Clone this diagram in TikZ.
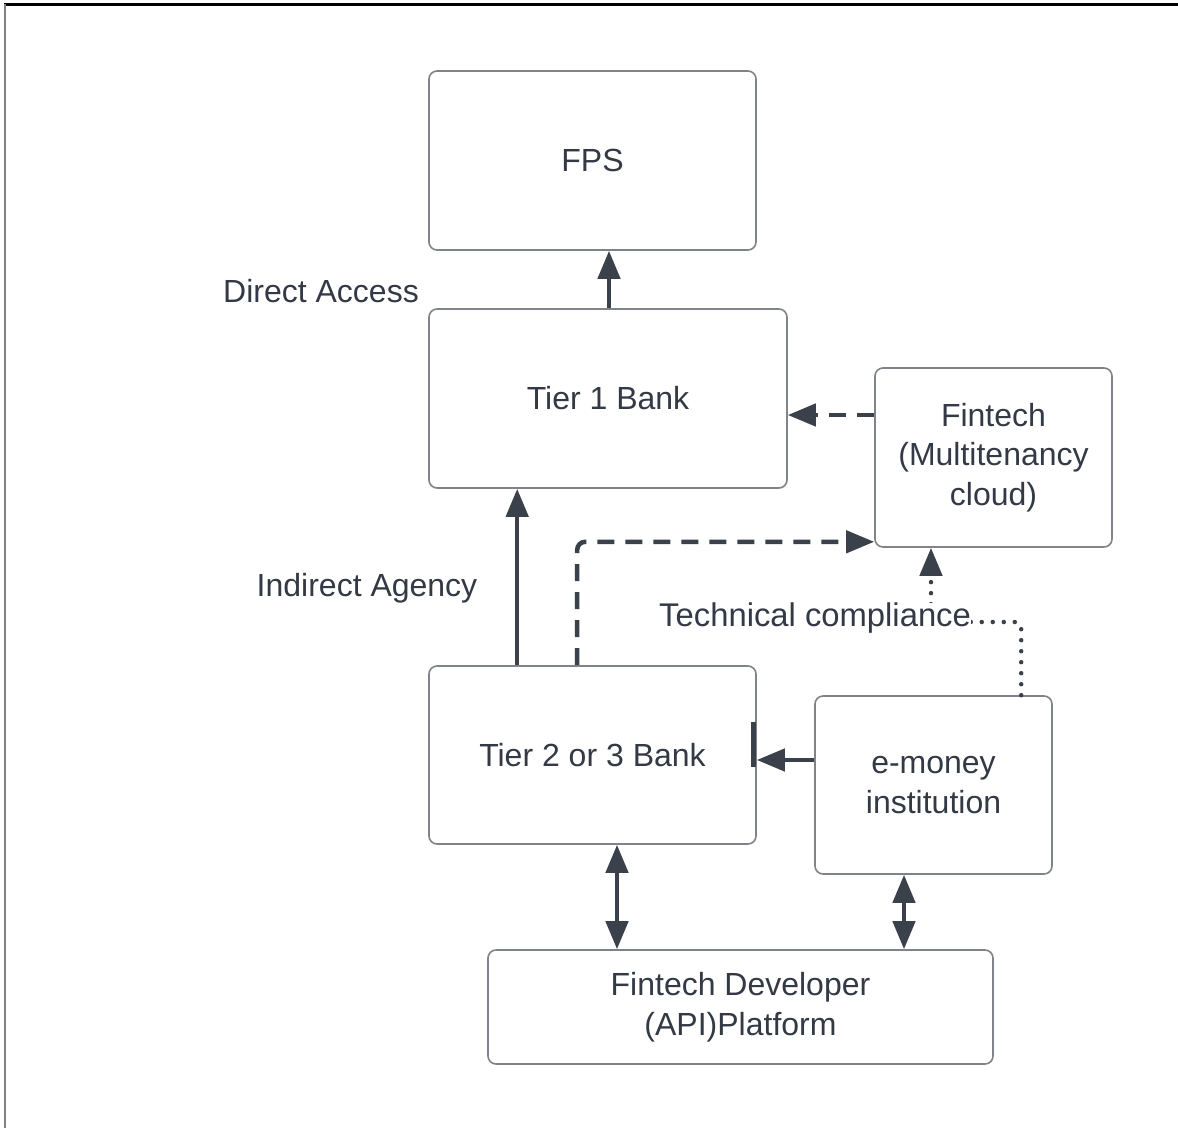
\documentclass[tikz,border=0pt]{standalone}
\usepackage{fontspec}
\setmainfont{Liberation Sans}
\usetikzlibrary{arrows.meta,calc}
\definecolor{ink}{RGB}{58,65,74}
\definecolor{txt}{RGB}{51,58,69}
\definecolor{edge}{RGB}{128,132,138}
\begin{document}
\begin{tikzpicture}[x=1pt,y=-1pt,
  box/.style={draw=edge,line width=1.6pt,rounded corners=8pt,fill=white,
    text=txt,align=center,inner sep=0pt,
    font=\fontsize{32}{39.5}\selectfont},
  lbl/.style={text=txt,inner sep=0pt,font=\fontsize{32}{39.5}\selectfont},
  conn/.style={draw=ink,line width=4.5pt},
  head/.style={-{Triangle[length=28pt,width=22pt]}},
  heads/.style={{Triangle[length=28pt,width=22pt]}-{Triangle[length=28pt,width=22pt]}},
  dashedline/.style={dash pattern=on 17pt off 11pt},
  dottedline/.style={line cap=round,dash pattern=on 0pt off 11pt}]
\useasboundingbox (0,0) rectangle (1178,1128);
\fill[white] (0,0) rectangle (1178,1128);
% frame
\draw[black,line width=2.2pt] (4,4.5) -- (1178,4.5);
\draw[gray,line width=2pt] (5,4) -- (5,1128);

% nodes
\node[box,minimum width=327pt,minimum height=179pt] (fps) at (592.5,160.5) {FPS};
\node[box,minimum width=358pt,minimum height=179pt] (tier1) at (608,398.5) {Tier 1 Bank};
\node[box,minimum width=237pt,minimum height=179pt] (fintech) at (993.5,457.5) {Fintech\\(Multitenancy\\cloud)};
\node[box,minimum width=327pt,minimum height=178pt] (tier2) at (592.5,755) {Tier 2 or 3 Bank};
\node[box,minimum width=237pt,minimum height=178pt] (emoney) at (933.5,785) {e-money\\institution};
\node[box,minimum width=505pt,minimum height=114pt] (dev) at (740.5,1007) {Fintech Developer\\(API)Platform};

% labels
\node[lbl] (direct) at (321,291) {Direct Access};
\node[lbl] (indirect) at (367,588) {Indirect Agency};

% connectors
\coordinate (directstart) at ($(tier1.north)+(1,0)$);
\draw[conn,head] (directstart) -- (directstart |- fps.south);
\draw[conn,head,dashedline] ($(fintech.west)+(0,-42.5)$) -- ($(tier1.east)+(0,16.5)$);
\coordinate (agencystart) at ($(tier2.north west)+(89,0)$);
\draw[conn,head] (agencystart) -- (agencystart |- tier1.south);
\coordinate (dashstart) at ($(tier2.north west)+(149,0)$);
\draw[conn,head,dashedline,rounded corners=8pt] (dashstart) |- ($(fintech.south west)+(0,-6)$);
\coordinate (tcbend) at (931,622);
\coordinate (dotstart) at ($(emoney.north west)+(207,0)$);
\draw[conn,head,dottedline,rounded corners=6pt] (dotstart) |- (tcbend) -- (tcbend |- fintech.south);
\node[lbl,fill=white,anchor=west,font=\fontsize{32.8}{39.5}\selectfont] (techlbl) at (659,618) {Technical compliance};
\draw[conn,head] ($(emoney.west)+(0,-25)$) -- ($(tier2.east)+(0,5)$);
\draw[ink,line width=5pt] ($(tier2.east)+(-3,-33)$) -- ($(tier2.east)+(-3,12)$);
\draw[conn,heads] (tier2.south -| 617,0) -- (dev.north -| 617,0);
\draw[conn,heads] (emoney.south -| 904,0) -- (dev.north -| 904,0);
\end{tikzpicture}
\end{document}
